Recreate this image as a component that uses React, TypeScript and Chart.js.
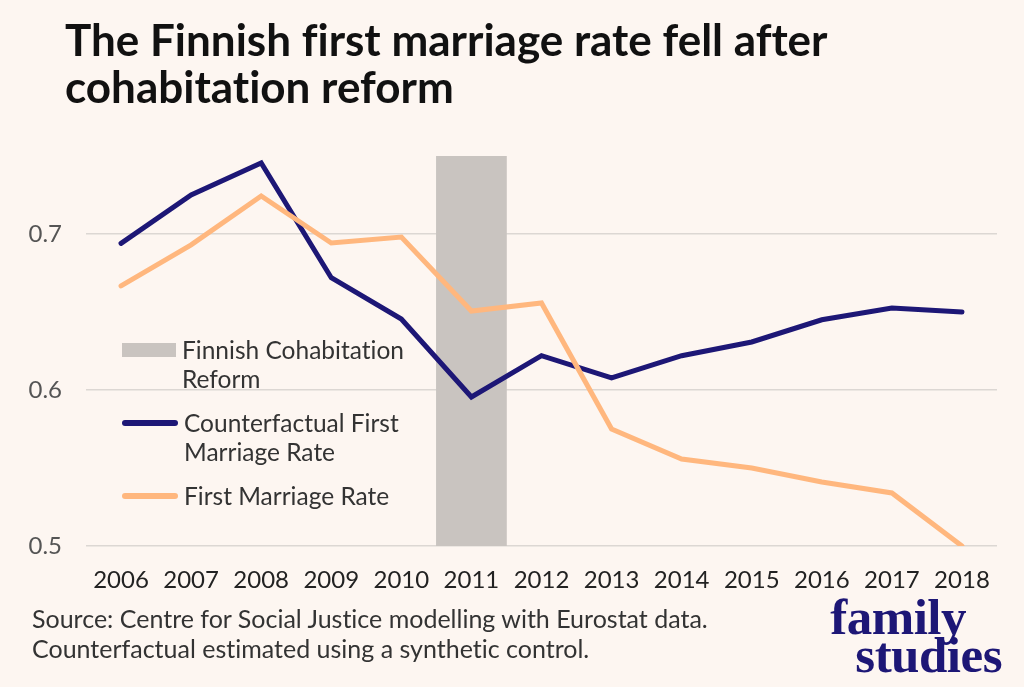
import React, { useEffect, useRef } from "react";
import { Chart, registerables } from "chart.js";

Chart.register(...registerables);

const years = [
  "2006", "2007", "2008", "2009", "2010", "2011", "2012",
  "2013", "2014", "2015", "2016", "2017", "2018",
];
const counterfactual = [
  0.694, 0.725, 0.7455, 0.672, 0.6455, 0.5955, 0.622,
  0.6077, 0.622, 0.6308, 0.645, 0.6526, 0.65,
];
const firstMarriage = [
  0.6667, 0.693, 0.7244, 0.6942, 0.698, 0.6506, 0.6558,
  0.575, 0.5558, 0.55, 0.541, 0.534, 0.5,
];
// reform period shaded from the axis floor to the top of the plot
const reformBar = years.map((y) => (y === "2011" ? [0.5, 0.75] : null));
const yTicks = [0.5, 0.6, 0.7];

const NAVY = "#1d1776";
const ORANGE = "#ffb77e";
const GREY = "#c9c4c0";
const BG = "#fdf6f1";

const legendRow: React.CSSProperties = {
  position: "absolute",
  left: 0,
  display: "flex",
  alignItems: "flex-start",
};

export default function App() {
  const canvasRef = useRef<HTMLCanvasElement | null>(null);
  const chartRef = useRef<Chart | null>(null);

  useEffect(() => {
    const ctx = canvasRef.current?.getContext("2d");
    if (!ctx) return;
    if (chartRef.current) chartRef.current.destroy();

    chartRef.current = new Chart(ctx, {
      type: "bar",
      data: {
        labels: years,
        datasets: [
          {
            type: "line",
            label: "First Marriage Rate",
            data: firstMarriage,
            borderColor: ORANGE,
            borderWidth: 5,
            pointRadius: 0,
            tension: 0,
            borderCapStyle: "round",
            order: 1,
          },
          {
            type: "line",
            label: "Counterfactual First Marriage Rate",
            data: counterfactual,
            borderColor: NAVY,
            borderWidth: 5,
            pointRadius: 0,
            tension: 0,
            borderCapStyle: "round",
            order: 2,
          },
          {
            type: "bar",
            label: "Finnish Cohabitation Reform",
            data: reformBar as any,
            backgroundColor: GREY,
            barPercentage: 1,
            categoryPercentage: 1,
            order: 3,
          },
        ],
      },
      options: {
        responsive: false,
        animation: false,
        layout: { padding: { left: 0, right: 27, top: 156, bottom: 91 } },
        plugins: {
          legend: { display: false },
          tooltip: { enabled: false },
        },
        scales: {
          x: {
            offset: true,
            grid: { display: false },
            border: { display: false },
            ticks: {
              color: "#222",
              font: { family: "Lato", size: 24 },
              padding: 12,
              maxRotation: 0,
            },
            afterFit: (scale: any) => {
              scale.height = 50;
            },
          },
          y: {
            min: 0.5,
            max: 0.75,
            afterBuildTicks: (scale: any) => {
              scale.ticks = yTicks.map((v) => ({ value: v }));
            },
            grid: {
              color: "#dcd7d3",
              lineWidth: 1.5,
              drawTicks: false,
            },
            border: { display: false },
            ticks: {
              color: "#555",
              font: { family: "Lato", size: 24 },
              padding: 24,
              callback: (v: any) => Number(v).toFixed(1),
            },
            afterFit: (scale: any) => {
              scale.width = 86;
            },
          },
        },
      },
    });

    return () => {
      if (chartRef.current) {
        chartRef.current.destroy();
        chartRef.current = null;
      }
    };
  }, []);

  const legendText: React.CSSProperties = {
    fontFamily: "Lato",
    fontSize: 24.5,
    lineHeight: "29px",
    color: "#333",
    marginLeft: 6,
    whiteSpace: "nowrap",
  };

  return (
    <div
      style={{
        position: "absolute",
        left: 0,
        top: 0,
        width: 1024,
        height: 687,
        background: BG,
        overflow: "hidden",
        fontVariantLigatures: "none",
      }}
    >
      <canvas
        ref={canvasRef}
        width={1024}
        height={687}
        style={{ position: "absolute", left: 0, top: 0 }}
      />
      <div
        style={{
          position: "absolute",
          left: 65,
          top: 16,
          fontFamily: "Lato",
          fontWeight: 700,
          fontSize: 44,
          lineHeight: "47px",
          color: "#111",
          width: 900,
        }}
      >
        The Finnish first marriage rate fell after
        <br />
        cohabitation reform
      </div>

      <div style={{ position: "absolute", left: 122, top: 335, width: 320 }}>
        <div style={{ ...legendRow, top: 0 }}>
          <div
            style={{ width: 54, height: 14, background: GREY, marginTop: 8 }}
          />
          <div style={legendText}>
            Finnish Cohabitation
            <br />
            Reform
          </div>
        </div>
        <div style={{ ...legendRow, top: 73 }}>
          <div
            style={{
              width: 56,
              height: 6,
              borderRadius: 3,
              background: NAVY,
              marginTop: 12,
            }}
          />
          <div style={legendText}>
            Counterfactual First
            <br />
            Marriage Rate
          </div>
        </div>
        <div style={{ ...legendRow, top: 146 }}>
          <div
            style={{
              width: 56,
              height: 6,
              borderRadius: 3,
              background: ORANGE,
              marginTop: 12,
            }}
          />
          <div style={legendText}>First Marriage Rate</div>
        </div>
      </div>

      <div
        style={{
          position: "absolute",
          left: 32,
          top: 603,
          fontFamily: "Lato",
          fontSize: 25,
          lineHeight: "30px",
          color: "#333",
          whiteSpace: "nowrap",
        }}
      >
        Source: Centre for Social Justice modelling with Eurostat data.
        <br />
        Counterfactual estimated using a synthetic control.
      </div>

      <div
        style={{
          position: "absolute",
          right: 22,
          top: 598,
          fontFamily: "Liberation Serif",
          fontWeight: 700,
          fontSize: 51,
          lineHeight: "38px",
          color: NAVY,
          textAlign: "right",
          letterSpacing: -0.5,
        }}
      >
        <div style={{ marginRight: 36 }}>family</div>
        <div>studies</div>
      </div>
    </div>
  );
}
